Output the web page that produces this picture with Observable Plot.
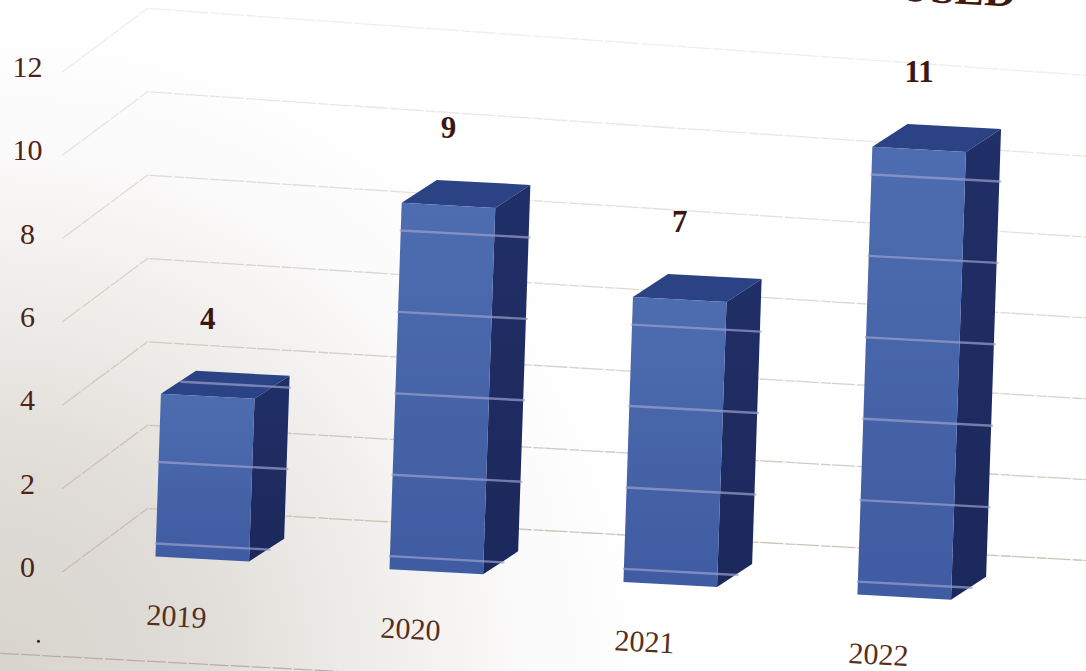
<!DOCTYPE html>
<html>
<head>
<meta charset="utf-8">
<script src="https://cdn.jsdelivr.net/npm/d3@7"></script>
<script src="https://cdn.jsdelivr.net/npm/@observablehq/plot@0.6"></script>
<style>
  html, body { margin: 0; padding: 0; width: 1086px; height: 671px; overflow: hidden; }
  body { background: radial-gradient(circle at 0% 100%, #d8d5ce 0%, #e0ddd8 16%, #efedea 29%, #fbfafa 41%, #ffffff 52%); }
  svg { display: block; background: transparent !important; }
</style>
</head>
<body>
<div id="chart"></div>
<script>
// ---- data ----
const years = ["2019", "2020", "2021", "2022"];
const counts = [4, 9, 7, 11];
const yTicks = [0, 2, 4, 6, 8, 10, 12];

// ---- oblique 3D projection of the photographed chart, in scale units ----
const barWidth = 0.4, depthX = 0.15, depthY = 0.55;
const shear = 0.0058, tilt = 0.305, lift = 0.264, squash = 0.977, bandOffset = 0.32;
const place = (s, v, d = 0) => ({
  x: s + shear * v + depthX * d,
  y: lift + squash * v - tilt * s + depthY * d
});
const rows = years.map((year, i) => ({year, value: counts[i], s: i}));

const faces = (fn) => rows.flatMap((r) => fn(r).map((p) => ({...p, year: r.year})));
const front = faces((r) => [
  place(r.s, 0), place(r.s + barWidth, 0), place(r.s + barWidth, r.value), place(r.s, r.value), place(r.s, 0)
]);
const side = faces((r) => [
  place(r.s + barWidth, 0), place(r.s + barWidth, 0, 1), place(r.s + barWidth, r.value, 1), place(r.s + barWidth, r.value), place(r.s + barWidth, 0)
]);
const top_ = faces((r) => [
  place(r.s, r.value), place(r.s + barWidth, r.value), place(r.s + barWidth, r.value, 1), place(r.s, r.value, 1), place(r.s, r.value)
]);

// light gridline bands that show through each bar
const bands = rows.flatMap((r) =>
  yTicks.map((t) => t + bandOffset)
    .filter((v) => v <= r.value + depthY / squash)
    .flatMap((v) => {
      const d = v > r.value ? (v - r.value) * squash / depthY : 0;
      const end = Math.min(1, v * squash / depthY);
      const a = place(r.s + depthX * d, v), b = place(r.s + barWidth + depthX * end, v);
      return [{...a, id: r.year + v}, {...b, id: r.year + v}];
    })
);

// wall and floor gridlines
const wallLeft = -0.397, wallCorner = -0.034, wallRight = 3.98, wallRise = 1.416;
const rightBase = 0.168, rightScale = 0.97;
const gridFor = (t) => [
  {x: wallLeft, y: t - 0.1},
  {x: wallCorner, y: t + wallRise},
  {x: wallRight, y: rightBase + rightScale * t}
];
const gridOpacity = (t) => 0.85 - t * 0.05;

const yearLabels = rows.map((r) => {
  const p = place(r.s + 0.09, 0);
  return {...p, y: p.y - 1.42, label: r.year};
});
const valueLabels = rows.map((r) => {
  const p = place(r.s + 0.2, r.value);
  return {...p, y: p.y + 1.85, label: String(r.value)};
});

const serif = "'Liberation Serif', serif";
const ink = "#4d2318";

const plot = Plot.plot({
  width: 1086,
  height: 671,
  marginLeft: 36,
  marginRight: 0,
  marginTop: 0,
  marginBottom: 0,
  x: {domain: [-0.5085, 3.979], axis: null},
  y: {domain: [-2.496, 13.607]},
  style: {background: "transparent", fontFamily: serif},
  marks: [
    ...yTicks.map((t) => Plot.line(gridFor(t), {
      x: "x", y: "y", stroke: "#c6b8aa", strokeWidth: 1.3,
      strokeOpacity: gridOpacity(t), strokeDasharray: "22 3 9 2"
    })),
    Plot.line([{x: -0.662, y: -2.06}, {x: 1.2, y: -2.62}], {
      x: "x", y: "y", stroke: "#b5aea5", strokeWidth: 1.2, strokeDasharray: "18 3"
    }),
    Plot.dot([{x: -0.5, y: -1.77}], {x: "x", y: "y", r: 1.5, fill: "#2a2420"}),
    Plot.line(top_, {x: "x", y: "y", z: "year", fill: "#2b4284", stroke: "none"}),
    Plot.line(side, {x: "x", y: "y", z: "year", fill: "url(#sideFill)", stroke: "none"}),
    Plot.line(front, {x: "x", y: "y", z: "year", fill: "url(#frontFill)", stroke: "none"}),
    Plot.line(bands, {x: "x", y: "y", z: "id", stroke: "#9aa0cc", strokeWidth: 2.4, strokeOpacity: 0.7}),
    Plot.axisY({
      ticks: yTicks, tickSize: 0, tickPadding: 9, label: null, textAnchor: "middle",
      fontSize: 30, fill: ink, tickFormat: (d) => String(d)
    }),
    Plot.text(yearLabels, {
      x: "x", y: "y", text: "label", fontSize: 30, fill: "#55301c", rotate: 3, fontFamily: serif
    }),
    Plot.text(valueLabels, {
      x: "x", y: "y", text: "label", fontSize: 31, fontWeight: "bold", fill: "#3c1710", fontFamily: serif
    }),
    Plot.text(["USED"], {
      x: () => 3.675, y: () => 13.46, textAnchor: "end", lineAnchor: "bottom",
      fontSize: 44, fontWeight: "bold", fill: "#3f1a10", rotate: 3, fontFamily: serif
    })
  ]
});

const defs = document.createElementNS("http://www.w3.org/2000/svg", "defs");
defs.innerHTML = `
  <linearGradient id="frontFill" x1="0" y1="0" x2="0" y2="1">
    <stop offset="0" stop-color="#4e6cb0"/><stop offset="1" stop-color="#3f5ca2"/>
  </linearGradient>
  <linearGradient id="sideFill" x1="0" y1="0" x2="0" y2="1">
    <stop offset="0" stop-color="#202f67"/><stop offset="1" stop-color="#1b285b"/>
  </linearGradient>`;
plot.prepend(defs);
document.getElementById("chart").appendChild(plot);
</script>
</body>
</html>
